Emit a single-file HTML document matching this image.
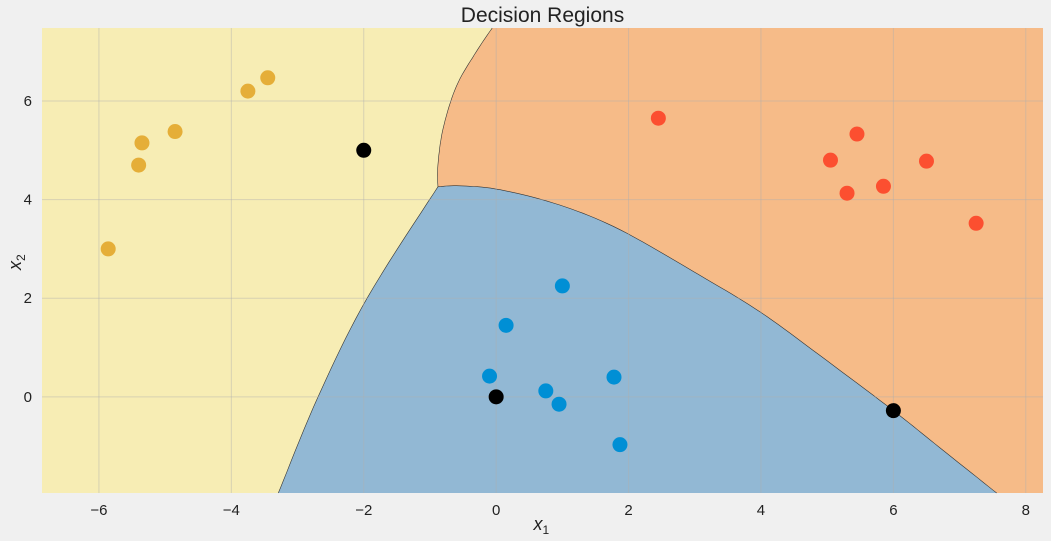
<!DOCTYPE html>
<html><head><meta charset="utf-8"><style>
body{margin:0;background:#f0f0f0;}
svg{display:block;font-family:"Liberation Sans",sans-serif;}
</style></head><body>
<svg id="chart" width="1051" height="541"></svg>
<script>
const xTicks=[-6,-4,-2,0,2,4,6,8];
const yTicks=[0,2,4,6];
const yellowX=[-5.86,-5.4,-5.35,-4.85,-3.75,-3.45];
const yellowY=[3.0,4.7,5.15,5.38,6.2,6.47];
const orangeX=[2.45,5.05,5.45,5.3,5.85,6.5,7.25];
const orangeY=[5.65,4.8,5.33,4.13,4.27,4.78,3.52];
const blueX=[1.0,0.15,-0.1,0.75,0.95,1.78,1.87];
const blueY=[2.25,1.45,0.42,0.12,-0.15,0.4,-0.97];
const centerX=[-2,0,6];
const centerY=[5,0,-0.28];
const ybBX=[-3.29,-2.69,-1.95,-0.88];
const ybBY=[-1.95,0,2.0,4.26];
const yoBX=[-0.88,-0.88,-0.8,-0.6,-0.3,-0.06];
const yoBY=[4.26,4.7,5.45,6.3,7.0,7.48];
const boBX=[-0.88,-0.55,0.06,0.96,1.87,3.07,4.0,4.89,6.0,6.7,7.56];
const boBY=[4.26,4.28,4.2,3.89,3.39,2.47,1.71,0.84,-0.28,-1.03,-1.95];

const xmin=-6.86,xmax=8.26,ymin=-1.95,ymax=7.48;
const L=42,R=1043,T=28,B=493;
const sx=v=>L+(v-xmin)/(xmax-xmin)*(R-L);
const sy=v=>B-(v-ymin)/(ymax-ymin)*(B-T);
const svg=document.getElementById('chart');
const NS='http://www.w3.org/2000/svg';
function mk(tag,attrs,parent){const e=document.createElementNS(NS,tag);for(const k in attrs)e.setAttribute(k,attrs[k]);(parent||svg).appendChild(e);return e;}
function smooth(xs,ys){
  const p=xs.map((x,i)=>[sx(x),sy(ys[i])]);
  const out=[];
  for(let i=0;i<p.length-1;i++){
    const p0=p[Math.max(i-1,0)],p1=p[i],p2=p[i+1],p3=p[Math.min(i+2,p.length-1)];
    for(let k=0;k<10;k++){
      const t=k/10,t2=t*t,t3=t2*t;
      const f=(a,b,c,d)=>0.5*(2*b+(-a+c)*t+(2*a-5*b+4*c-d)*t2+(-a+3*b-3*c+d)*t3);
      out.push([f(p0[0],p1[0],p2[0],p3[0]),f(p0[1],p1[1],p2[1],p3[1])]);
    }
  }
  out.push(p[p.length-1]);
  return out;
}
const yb=smooth(ybBX,ybBY), yo=smooth(yoBX,yoBY), bo=smooth(boBX,boBY);
const str=a=>a.map(q=>q[0].toFixed(1)+','+q[1].toFixed(1)).join(' ');

let bg=mk('rect',{x:L,y:T,width:R-L,height:B-T,fill:'#f7edb4'});


let orr=mk('polygon',{points:str([...yo,[R,T],[R,B],...bo.slice().reverse()]),fill:'#f6bb88'});


let br=mk('polygon',{points:str([...yb,...bo.slice(1)]),fill:'#92b8d4'});


[yb,yo,bo].forEach(a=>{
  let l=mk('polyline',{points:str(a),fill:'none',stroke:'#333','stroke-width':0.6});
  
  
});

xTicks.forEach(t=>{
  let g=mk('line',{x1:sx(t),x2:sx(t),y1:T,y2:B,stroke:'#b0b0b0','stroke-opacity':0.45,'stroke-width':1});
  
  
  let tx=mk('text',{x:sx(t),y:B+22,'text-anchor':'middle','font-size':15,fill:'#222'});
  tx.textContent=t<0?'\u2212'+(-t):t;
  
  
});
yTicks.forEach(t=>{
  let g=mk('line',{x1:L,x2:R,y1:sy(t),y2:sy(t),stroke:'#b0b0b0','stroke-opacity':0.45,'stroke-width':1});
  
  
  let tx=mk('text',{x:L-10,y:sy(t)+5,'text-anchor':'end','font-size':15,fill:'#222'});
  tx.textContent=t;
  
  
});
function scatter(xs,ys,color,name){
  xs.forEach((x,i)=>{
    let c=mk('circle',{cx:sx(x),cy:sy(ys[i]),r:7.5,fill:color});
    
    
  });
}
scatter(yellowX,yellowY,'#e5ae38','point-yellow');
scatter(orangeX,orangeY,'#fc4f30','point-orange');
scatter(blueX,blueY,'#008fd5','point-blue');
scatter(centerX,centerY,'#000','centroid');

let title=mk('text',{x:(L+R)/2,y:22,'text-anchor':'middle','font-size':21,fill:'#222'});
title.textContent='Decision Regions';


let xl=mk('text',{x:(L+R)/2-9,y:530,'font-size':18,fill:'#222','font-style':'italic'});
xl.innerHTML='x<tspan font-size="12" dy="4" font-style="normal">1</tspan>';


let yl=mk('text',{x:21,y:270,'font-size':18,fill:'#222','font-style':'italic',transform:'rotate(-90 21 270)'});
yl.innerHTML='x<tspan font-size="12" dy="4" font-style="normal">2</tspan>';


</script>
</body></html>
